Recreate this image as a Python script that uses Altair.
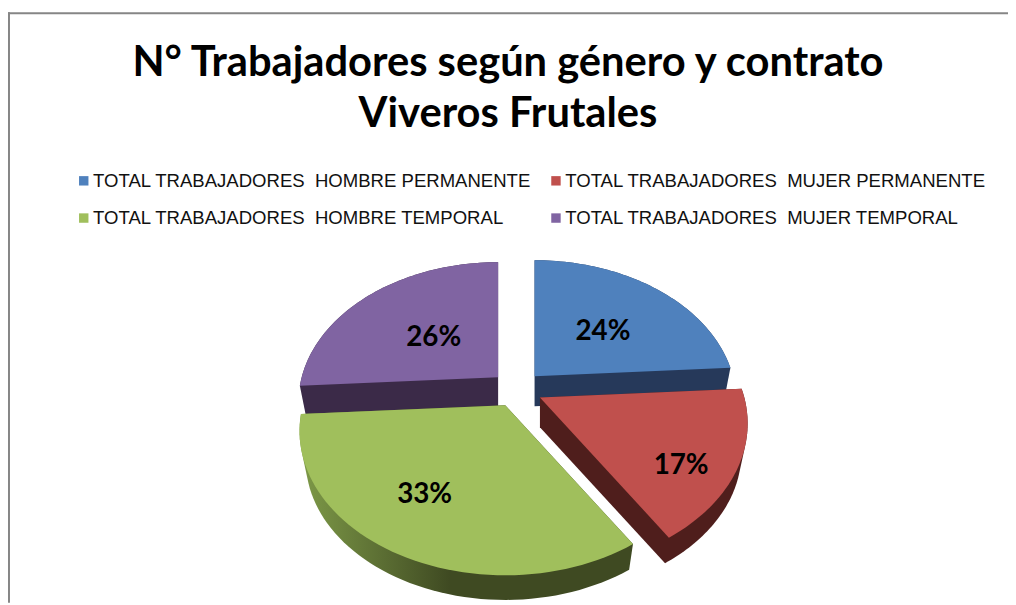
import numpy as np
import altair as alt

categories = ["TOTAL TRABAJADORES\u00a0 HOMBRE PERMANENTE", "TOTAL TRABAJADORES\u00a0 MUJER PERMANENTE",
              "TOTAL TRABAJADORES\u00a0 HOMBRE TEMPORAL", "TOTAL TRABAJADORES\u00a0 MUJER TEMPORAL"]
shares = [24, 17, 33, 26]
labels = ["24%", "17%", "33%", "26%"]

top_colors = ["#4F81BD", "#C0504D", "#A0BF5C", "#8064A2"]
wall_colors = ["#26395A", "#4F1E1C", "#3F4A22", "#3B2A48"]
slice_scale = [1.0, 1.03, 1.02, 0.99]
label_radius = [0.504, 0.80, 0.69, 0.453]
label_turn = [3.4, 8.3, 4.8, -2.2]
paint_order = [3, 0, 2, 1]
legend_order = [0, 2, 1, 3]   # the legend fills column by column

W, H = 1008, 597
CX, CY = 513, 382        # pie centre in chart space
RX, RY, TILT = 200, 138, 0.179
EXPLODE, DEPTH, UNDER = 0.13, 30, 0.97


def rim(t, r=1.0):
    X, Y = r * np.sin(t), r * np.cos(t)
    s = 1 / (1 + TILT * Y)
    return RX * X * s, -RY * Y * s


def hull(points):
    pts = sorted(set(points))
    def half(seq):
        out = []
        for p in seq:
            while len(out) > 1 and (out[-1][0] - out[-2][0]) * (p[1] - out[-2][1]) - (out[-1][1] - out[-2][1]) * (p[0] - out[-2][0]) <= 0:
                out.pop()
            out.append(p)
        return out[:-1]
    return half(pts) + half(pts[::-1])


def feature(ring, name):
    ring = [[float(x), float(y)] for x, y in ring]
    ring.append(ring[0])
    return {"type": "Feature", "properties": {"name": name},
            "geometry": {"type": "Polygon", "coordinates": [ring]}}


edges = np.radians(np.concatenate([[0], np.cumsum(shares)]) * 3.6)
tops, walls, text_rows = {}, {}, []
for i, name in enumerate(categories):
    a0, a1 = edges[i], edges[i + 1]
    mid = (a0 + a1) / 2
    k = slice_scale[i]
    ax = CX + EXPLODE * RX * np.sin(mid)
    ay = CY - EXPLODE * RY * np.cos(mid)
    ring = [(ax, ay)] + [(ax + k * rim(t)[0], ay + k * rim(t)[1]) for t in np.linspace(a0, a1, 60)]
    shifted = [(ax + (x - ax) * UNDER, ay + (y - ay) * UNDER + DEPTH) for x, y in ring]
    tops[i] = feature(ring, name)
    walls[i] = feature(hull([(round(x, 3), round(y, 3)) for x, y in ring + shifted]), name)
    lx, ly = rim(mid + np.radians(label_turn[i]), label_radius[i])
    text_rows.append({"lon": float(ax + lx), "lat": float(ay + ly), "text": labels[i]})

PROJ = dict(type="identity", scale=1, translate=[0, 0])
color_scale = alt.Scale(domain=[categories[i] for i in legend_order],
                        range=[top_colors[i] for i in legend_order])
legend = alt.Legend(orient="none", legendX=67, legendY=162, columns=2, title=None,
                    symbolType="square", symbolSize=90, symbolStrokeWidth=0,
                    labelFont="Liberation Sans", labelFontSize=18.7, labelColor="#111111",
                    labelLimit=0, columnPadding=15, rowPadding=18, labelOffset=0, symbolOffset=0)

layers = [
    alt.Chart(alt.Data(values=[{"k": 1}])).mark_rule(color="#868686", strokeWidth=2).encode(
        x=alt.value(0), x2=alt.value(W), y=alt.value(3)),
    alt.Chart(alt.Data(values=[{"k": 1}])).mark_rule(color="#868686", strokeWidth=2).encode(
        x=alt.value(1), y=alt.value(2), y2=alt.value(H)),
]
green_wall = alt.LinearGradient(gradient="linear", x1=0, x2=1, y1=0, y2=0, stops=[
    alt.GradientStop(offset=0, color="#7E9A48"),
    alt.GradientStop(offset=0.45, color="#3F4A22"),
    alt.GradientStop(offset=1, color="#3F4A22"),
])
for i in paint_order:
    fill = green_wall if i == 2 else wall_colors[i]
    layers.append(alt.Chart(alt.Data(values=[walls[i]])).mark_geoshape(fill=fill, stroke=None).project(**PROJ))
    layers.append(alt.Chart(alt.Data(values=[tops[i]])).mark_geoshape(stroke=None).encode(
        color=alt.Color("properties.name:N", scale=color_scale, legend=legend)).project(**PROJ))

layers.append(alt.Chart(alt.Data(values=text_rows)).mark_text(
    font="Lato", fontWeight="bold", fontSize=28, color="#000000").encode(
    longitude="lon:Q", latitude="lat:Q", text="text:N").project(**PROJ))

chart = alt.layer(*layers).properties(
    width=W, height=H, padding=0,
    autosize=alt.AutoSizeParams(type="none"),
    title=alt.TitleParams(
        text=["N° Trabajadores según género y contrato", "Viveros Frutales"],
        font="Lato", fontSize=42, fontWeight="bold", color="#000000",
        anchor="middle", frame="group", lineHeight=52, baseline="alphabetic", dy=160, dx=0, offset=0),
).configure_view(stroke=None).resolve_scale(color="shared")

chart.save("out.html", embed_options={"renderer": "svg", "actions": False})
